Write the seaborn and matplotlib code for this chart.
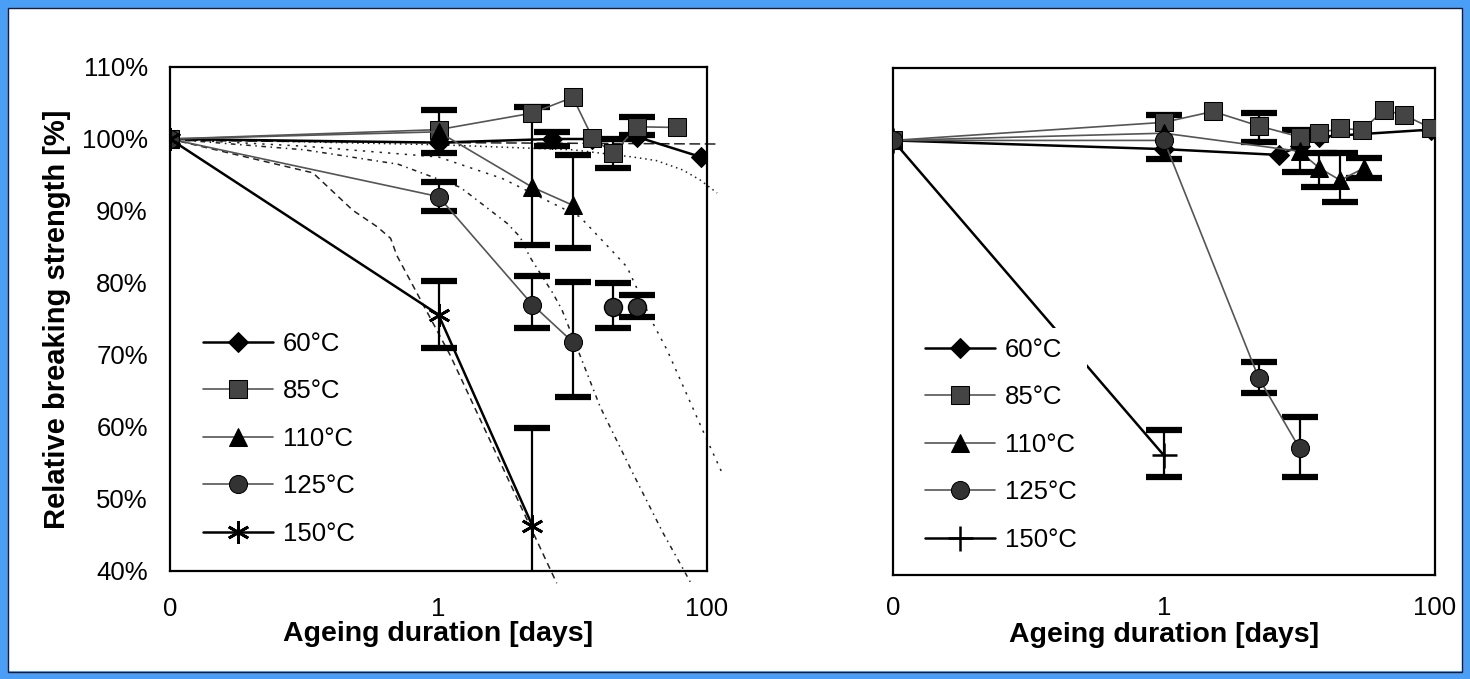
import numpy as np
import pandas as pd
import seaborn as sns
import matplotlib.pyplot as plt
from matplotlib.patches import Rectangle
from matplotlib.ticker import NullLocator, FixedLocator

# ---- data (days, relative breaking strength in %) ----
temps = ['60°C', '85°C', '110°C', '125°C', '150°C']

# left panel: measured points
l60_days = [0.01, 1, 7, 14, 30, 90]
l60_vals = [100, 99.5, 100, 100, 100.3, 97.5]
l85_days = [0.01, 1, 5, 10, 14, 20, 30, 60]
l85_vals = [100, 101.3, 103.6, 105.8, 100.2, 98.0, 101.7, 101.6]
l110_days = [0.01, 1, 5, 10]
l110_vals = [100, 101, 93.3, 90.8]
l125_days = [0.01, 1, 5, 10]
l125_vals = [100, 92, 77, 71.8]
l125b_days = [20, 30]
l125b_vals = [76.7, 76.7]
l150_days = [0.01, 1, 5]
l150_vals = [100, 75.6, 46.3]

# left panel: error bars (day, low, high)
le_days = [1, 5, 10, 1, 5, 10, 20, 30, 1, 5, 7, 20, 30]
le_lo = [98, 85.3, 84.9, 90, 73.7, 64.2, 73.7, 75.3, 71, 36, 99, 96, 100.5]
le_hi = [104, 104.4, 97.8, 94, 81, 80.1, 80, 78.3, 80.3, 59.9, 101, 100, 103]

# left panel: model curves
m60_days = [0.01, 1, 125]
m60_vals = [99.8, 99.5, 99.3]
m85_days = [0.01, 1, 10, 28, 42, 66, 89, 119]
m85_vals = [100, 99.2, 98.5, 97.5, 97.0, 95.7, 94.3, 92.5]
m110_days = [0.01, 0.1, 1, 3, 11.3, 20, 25.4, 39.6, 50.4, 100, 129]
m110_vals = [100, 99, 97.5, 94.5, 89.2, 84.3, 82.2, 74.4, 70.7, 58.2, 53.7]
m125_days = [0.01, 0.1, 0.5, 1.45, 1.94, 3.24, 4.05, 4.8, 5.7, 7.1, 8.3, 11.3, 16, 28, 47, 75]
m125_vals = [100, 98.5, 96.5, 93.3, 91.5, 88.3, 86.4, 83.6, 81.4, 78.6, 76.3, 70, 62.8, 53.6, 45.3, 38.5]
m150_days = [0.01, 0.116, 0.23, 0.35, 0.44, 0.49, 1.22, 7.6]
m150_vals = [100, 95.3, 90.1, 87.8, 86.2, 83.8, 70, 38.3]

# right panel: measured points
r60_days = [0.01, 1, 7, 10, 14, 94]
r60_vals = [100, 98.8, 98.0, 99.2, 100.5, 101.5]
r85_days = [0.01, 1, 2.3, 5, 10, 14, 20, 29, 42, 59, 94]
r85_vals = [100, 102.5, 104, 102, 100.5, 101, 101.7, 101.4, 104.2, 103.5, 101.7]
r110_days = [0.01, 1, 10, 14, 20, 30]
r110_vals = [100, 101, 98.5, 96.2, 94.5, 96.2]
r125_days = [0.01, 1, 5, 10]
r125_vals = [100, 100, 67.2, 57.5]
r150_days = [0.01, 1]
r150_vals = [100, 56.5]

# right panel: error bars (day, low, high)
re_days = [14, 20, 30, 5, 10, 1, 1, 5, 10]
re_lo = [93.6, 91.5, 94.8, 65.1, 53.5, 53.5, 97.5, 99.8, 95.6]
re_hi = [98.3, 98.3, 97.6, 69.4, 61.8, 60, 103.5, 103.8, 101.4]

xticks = [0.01, 1, 100]
xticklabels = ['0', '1', '100']
yticks = [40, 50, 60, 70, 80, 90, 100, 110]

sns.set_theme(style='white')
plt.rcParams['font.family'] = ['Liberation Sans', 'DejaVu Sans']
for k in ['text.color', 'axes.labelcolor', 'xtick.color', 'ytick.color']:
    plt.rcParams[k] = 'black'
FS = 18.5

fig = plt.figure(figsize=(14.7, 6.79), dpi=100)
fig.patch.set_facecolor('white')
ax1 = fig.add_axes([170 / 1470, 1 - 571 / 679, 537 / 1470, 504 / 679])
ax2 = fig.add_axes([893 / 1470, 1 - 575 / 679, 542 / 1470, 507 / 679])

styles = {
    '60°C': dict(marker='D', ms=10, mfc='black', mec='black', color='black', lw=1.8),
    '85°C': dict(marker='s', ms=13, mfc='#444444', mec='black', color='#555555', lw=1.2),
    '110°C': dict(marker='^', ms=13, mfc='black', mec='black', color='#555555', lw=1.2),
    '125°C': dict(marker='o', ms=13, mfc='#333333', mec='black', color='#555555', lw=1.2),
}
star = dict(marker=(6, 2, 0), ms=16, mec='black', mew=2, color='black', lw=1.8)
plus = dict(marker='+', ms=18, mec='black', mew=1.8, color='black', lw=1.8)

ebar = dict(fmt='none', ecolor='black', elinewidth=1.6, capsize=13, capthick=4.5, zorder=3)


def draw_err(ax, d, lo, hi):
    lo = np.array(lo)
    hi = np.array(hi)
    mid = (lo + hi) / 2
    ax.errorbar(d, mid, yerr=(hi - lo) / 2, **ebar)


def model(ax, d, v, ls):
    sns.lineplot(x=d, y=v, ax=ax, color='#222222', lw=1.1, linestyle=ls,
                 sort=False, clip_on=False, zorder=1)


# ---- left panel ----
model(ax1, m60_days, m60_vals, (0, (7, 3)))
model(ax1, m85_days, m85_vals, (0, (1, 2.5)))
model(ax1, m110_days, m110_vals, (0, (1.5, 4)))
model(ax1, m125_days, m125_vals, (0, (3, 3, 1, 3)))
model(ax1, m150_days, m150_vals, (0, (4, 3)))

h = []
for d, v, lab in [(l60_days, l60_vals, '60°C'), (l85_days, l85_vals, '85°C'),
                  (l110_days, l110_vals, '110°C'), (l125_days, l125_vals, '125°C')]:
    sns.lineplot(x=d, y=v, ax=ax1, sort=False, zorder=4, **styles[lab])
    h.append(ax1.lines[-1])
sns.lineplot(x=l150_days, y=l150_vals, ax=ax1, sort=False, zorder=4, **star)
h.append(ax1.lines[-1])
ax1.plot(l125b_days, l125b_vals, ls='none', zorder=4,
         **{k: v for k, v in styles['125°C'].items() if k not in ('color', 'lw')})
draw_err(ax1, le_days, le_lo, le_hi)

# ---- right panel ----
h2 = []
for d, v, lab in [(r60_days, r60_vals, '60°C'), (r85_days, r85_vals, '85°C'),
                  (r110_days, r110_vals, '110°C'), (r125_days, r125_vals, '125°C')]:
    sns.lineplot(x=d, y=v, ax=ax2, sort=False, zorder=4, **styles[lab])
    h2.append(ax2.lines[-1])
sns.lineplot(x=r150_days, y=r150_vals, ax=ax2, sort=False, zorder=2, **plus)
h2.append(ax2.lines[-1])
draw_err(ax2, re_days, re_lo, re_hi)

for ax, hh, anchor, pad in [(ax1, h, (0.019, 0.52), 19), (ax2, h2, (0.017, 0.513), 15)]:
    ax.set_xscale('log')
    ax.set_xlim(0.01, 100)
    ax.set_ylim(40, 110)
    ax.xaxis.set_major_locator(FixedLocator(xticks))
    ax.xaxis.set_minor_locator(NullLocator())
    ax.set_xticklabels(xticklabels, fontsize=FS)
    ax.tick_params(axis='x', length=0, pad=pad)
    ax.set_xlabel('Ageing duration [days]', fontsize=20.5, fontweight='bold')
    for s in ax.spines.values():
        s.set_color('black')
        s.set_linewidth(1.6)
        s.set_visible(True)
    leg = ax.legend(hh, temps, loc='upper left', bbox_to_anchor=anchor,
                    fontsize=FS, frameon=True, framealpha=1, facecolor='white',
                    edgecolor='none', handlelength=2.7, handletextpad=0.4,
                    labelspacing=0.91, borderpad=0.4)
    leg.set_zorder(5)

ax1.xaxis.set_label_coords(0.5, -0.099)
ax2.xaxis.set_label_coords(0.5, -0.093)
ax1.set_yticks(yticks)
ax1.set_yticklabels([f'{v}%' for v in yticks], fontsize=FS)
ax1.tick_params(axis='y', length=0, pad=16)
ax1.set_ylabel('Relative breaking strength [%]', fontsize=21, fontweight='bold', labelpad=8)
ax2.set_yticks([])
ax2.set_ylabel('')

# blue frame around the picture
fig.add_artist(Rectangle((0, 0), 1, 1, transform=fig.transFigure, fill=False,
                         edgecolor='#4b9ef5', linewidth=12, zorder=10))
fig.add_artist(Rectangle((8 / 1470, 7 / 679), 1 - 16 / 1470, 1 - 15 / 679,
                         transform=fig.transFigure, fill=False,
                         edgecolor='#1a1a3a', linewidth=1, zorder=10))

fig.savefig('out.png', dpi=100, facecolor='white')
